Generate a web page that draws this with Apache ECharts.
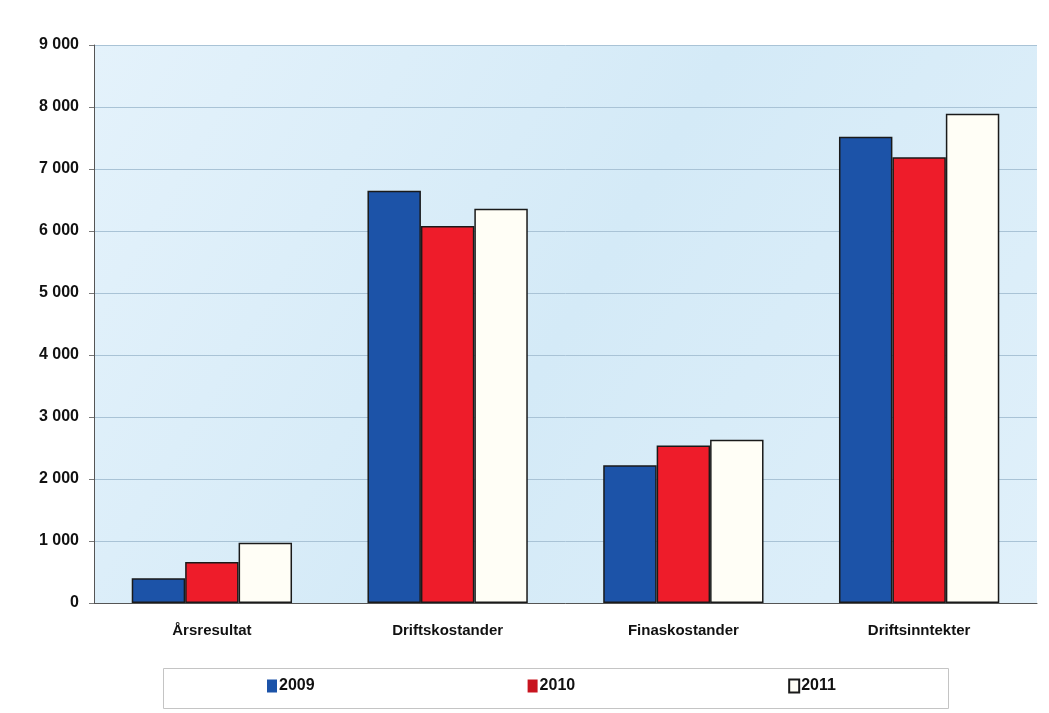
<!DOCTYPE html>
<html><head><meta charset="utf-8">
<script src="https://cdn.jsdelivr.net/npm/echarts@6/dist/echarts.min.js"></script>
<style>html,body{margin:0;padding:0;background:#fff}#c{width:1049px;height:713px}</style>
</head><body><div id="c"></div>
<script>
const categories = ['Årsresultat', 'Driftskostander', 'Finaskostander', 'Driftsinntekter'];
const s2009 = [400, 6650, 2220, 7520];
const s2010 = [660, 6080, 2540, 7190];
const s2011 = [970, 6360, 2635, 7890];
const yTicks = { min: 0, max: 9000, interval: 1000 };

const chart = echarts.init(document.getElementById('c'));
const font = 'Liberation Sans, Arial, sans-serif';
function fmt(v){ return v >= 1000 ? Math.floor(v/1000) + ' ' + String(v%1000).padStart(3,'0') : String(v); }
const barBorder = { borderColor: '#1a1a1a', borderWidth: 1.5 };
chart.setOption({
  animation: false,
  backgroundColor: '#ffffff',
  grid: { left: 94, right: 12, top: 45, bottom: 110, show: true, borderWidth: 0,
    backgroundColor: {
      type: 'linear', x: 0, y: 0, x2: 1, y2: 1,
      colorStops: [{offset: 0, color: '#e4f2fb'}, {offset: 0.5, color: '#d4eaf7'}, {offset: 1, color: '#e0f0fa'}]
    } },
  graphic: [{ type: 'rect', left: 163, top: 668, shape: { width: 785, height: 40 },
    style: { fill: '#ffffff', stroke: '#c4c4c4', lineWidth: 1 }, z: -1 }],
  legend: {
    left: 267, top: 678, itemGap: 213, itemWidth: 10, itemHeight: 13, icon: 'rect',
    padding: 0,
    textStyle: { fontFamily: font, fontSize: 16, fontWeight: 'bold', color: '#111', padding: [0,0,0,-3] },
    data: [
      { name: '2009', itemStyle: { borderWidth: 0 } },
      { name: '2010', itemStyle: { borderWidth: 0, color: '#c8141f' } },
      { name: '2011', itemStyle: { borderWidth: 2 } }
    ]
  },
  xAxis: {
    type: 'category', data: categories,
    axisLine: { show: true, lineStyle: { color: '#555', width: 1 } },
    axisTick: { show: false },
    axisLabel: { fontFamily: font, fontSize: 15, fontWeight: 'bold', color: '#111', margin: 20 }
  },
  yAxis: {
    type: 'value', min: yTicks.min, max: yTicks.max, interval: yTicks.interval,
    axisLine: { show: true, lineStyle: { color: '#555', width: 1 } },
    axisTick: { show: true, length: 5, lineStyle: { color: '#777' } },
    splitLine: { lineStyle: { color: '#a9c3d6', width: 1 } },
    axisLabel: { fontFamily: font, fontSize: 16, fontWeight: 'bold', color: '#111', margin: 15, formatter: fmt }
  },
  series: [
    { name: '2009', type: 'bar', data: s2009, barGap: '0%', barCategoryGap: '32%',
      itemStyle: Object.assign({ color: '#1c53a8' }, barBorder) },
    { name: '2010', type: 'bar', data: s2010,
      itemStyle: Object.assign({ color: '#ee1c2a' }, barBorder) },
    { name: '2011', type: 'bar', data: s2011,
      itemStyle: Object.assign({ color: '#fffef6' }, barBorder) }
  ]
});
</script></body></html>
